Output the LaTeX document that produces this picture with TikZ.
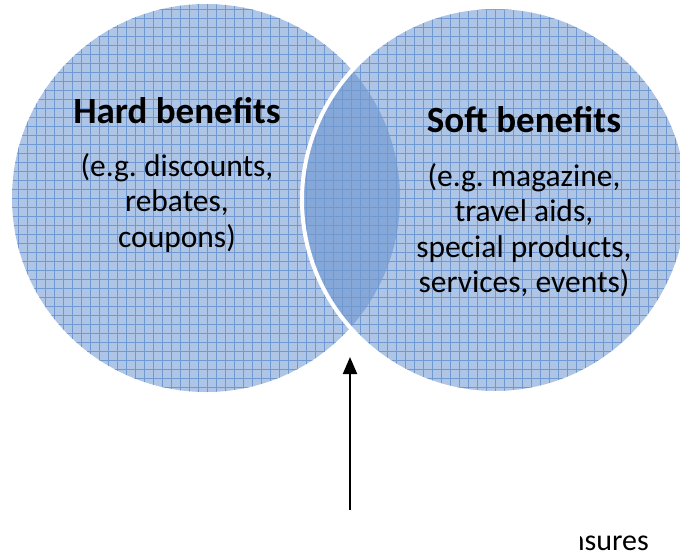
\documentclass[tikz,border=0pt]{standalone}
\usepackage{fontspec}
\setmainfont{Carlito}
\usetikzlibrary{arrows.meta}
\frenchspacing
\definecolor{cfill}{HTML}{AFC5E5}
\definecolor{clens}{HTML}{86A8D9}
\definecolor{cgrid}{HTML}{7099D1}
\tikzset{
  headtext/.style={font=\fontsize{37}{40}\selectfont\bfseries, inner sep=0pt},
  bodytext/.style={font=\fontsize{31.5}{35.5}\selectfont, align=center, inner sep=0pt},
  gridline/.style={cgrid, line width=0.55pt},
}
\begin{document}
\begin{tikzpicture}[x=1pt,y=-1pt]
\useasboundingbox (0,0) rectangle (680,558);
\coordinate (cl) at (206,198);
\coordinate (cr) at (495,200);
% fills
\fill[cfill] (cl) circle[radius=194];
\fill[cfill] (cr) circle[radius=193];
\begin{scope}
  \clip (cl) circle[radius=194];
  \fill[clens] (cr) circle[radius=193];
\end{scope}
% grid texture
\begin{scope}
  \clip (cl) circle[radius=194] (cr) circle[radius=193];
  \foreach \i in {0,9,...,684} {
    \draw[gridline] (\i,0) -- (\i,558);
  }
  \foreach \j in {0,9,...,558} {
    \draw[gridline] (0,\j) -- (680,\j);
  }
\end{scope}
% white outline of right circle
\draw[white, line width=4pt] (cr) circle[radius=193];
% texts
\node[headtext, anchor=base] (hard) at (177,123) {Hard benefits};
\node[bodytext] (hardsub) at (177,203) {(e.g. discounts,\\rebates,\\coupons)};
\node[headtext, anchor=base] (soft) at (524,132) {Soft benefits};
\node[bodytext] (softsub) at (524,230) {(e.g. magazine,\\travel aids,\\special products,\\services, events)};
% arrow
\coordinate (arrowtail) at (350,510);
\coordinate (arrowtip) at (350,357);
\draw[line width=2pt, -{Triangle[length=17pt,width=14pt]}] (arrowtail) -- (arrowtip);
% clipped bottom text
\begin{scope}
  \clip (580,520) rectangle (680,558);
  \node[font=\fontsize{30}{34}\selectfont, inner sep=0pt, anchor=base east] (ensures) at (649,550) {nsures};
\end{scope}
\end{tikzpicture}
\end{document}
